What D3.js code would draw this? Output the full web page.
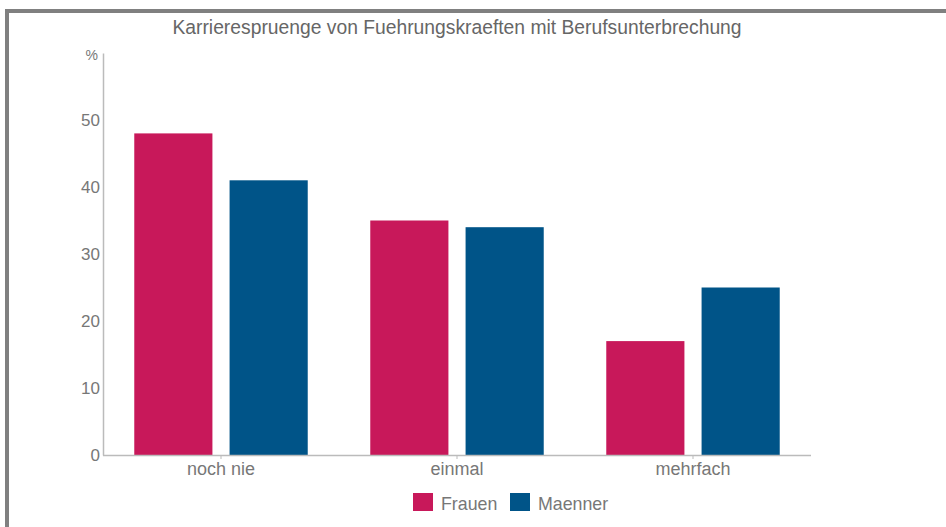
<!DOCTYPE html>
<html><head><meta charset="utf-8">
<script src="https://cdn.jsdelivr.net/npm/d3@7"></script>
<style>html,body{margin:0;padding:0;background:#fff;}svg{display:block;font-family:"Liberation Sans",Arial,sans-serif;}</style>
</head><body>
<script>
(function(){
const categories = ["noch nie", "einmal", "mehrfach"];
const seriesNames = ["Frauen", "Maenner"];
const frauen = [48, 35, 17];
const maenner = [41, 34, 25];
const yTicks = [0, 10, 20, 30, 40, 50];
const colors = ["#c8185a", "#005488"];
const title = "Karrierespruenge von Fuehrungskraeften mit Berufsunterbrechung";

const W = 946, H = 527;
const svg = d3.select("body").append("svg").attr("width", W).attr("height", H);

// frame
svg.append("path").attr("d", `M7,${H} V11 H${W}`).attr("fill","none").attr("stroke","#808080").attr("stroke-width",4);

const mLeft = 103, mRight = 811, mTop = 53, mBottom = 455;
const x0 = d3.scaleBand().domain(categories).range([mLeft, mRight]).paddingInner(0.265).paddingOuter(0.1325);
const x1 = d3.scaleBand().domain(seriesNames).range([0, x0.bandwidth()]).paddingInner(0.18);
const y = d3.scaleLinear().domain([0, 60]).range([mBottom, mTop]);

const data = categories.map((c, i) => ({cat: c, vals: [frauen[i], maenner[i]]}));

const g = svg.append("g");
g.selectAll("g.grp").data(data).join("g").attr("class","grp")
  .attr("transform", d => `translate(${x0(d.cat)},0)`)
  .selectAll("rect").data(d => d.vals.map((v, j) => ({s: seriesNames[j], v, j})))
  .join("rect")
  .attr("x", d => x1(d.s)).attr("width", x1.bandwidth())
  .attr("y", d => y(d.v)).attr("height", d => y(0) - y(d.v))
  .attr("fill", d => colors[d.j]);

// y axis
const yAx = svg.append("g").attr("transform", `translate(${mLeft},0)`)
  .call(d3.axisLeft(y).tickValues(yTicks).tickSize(0).tickPadding(3));
yAx.select(".domain").attr("stroke","#bbb").attr("stroke-width",1.5);
yAx.selectAll("text").attr("fill","#777").style("font-size","17px").style("font-family","Liberation Sans, Arial, sans-serif");
svg.append("text").attr("x", mLeft - 5).attr("y", mTop + 7).attr("text-anchor","end")
  .attr("fill","#777").style("font-size","14px").text("%");

// x axis
const xAx = svg.append("g").attr("transform", `translate(0,${mBottom})`)
  .call(d3.axisBottom(x0).tickSize(4).tickPadding(3).tickSizeOuter(0));
xAx.select(".domain").attr("stroke","#bbb").attr("stroke-width",1.5).attr("d", `M${mLeft},0.5H${mRight}`);
xAx.selectAll(".tick line").attr("stroke","#bbb");
xAx.selectAll("text").attr("fill","#777").style("font-size","18px").style("font-family","Liberation Sans, Arial, sans-serif");

// title
svg.append("text").attr("x", 457).attr("y", 34).attr("text-anchor","middle")
  .attr("fill","#666").style("font-size","19.3px").text(title);

// legend
const legX = [413, 510];
const leg = svg.append("g").selectAll("g").data(seriesNames).join("g")
  .attr("transform", (d, i) => `translate(${legX[i]},493)`);
leg.append("rect").attr("width",20).attr("height",18).attr("fill",(d,i)=>colors[i]);
leg.append("text").attr("x",28).attr("y",17).attr("fill","#777").style("font-size","17.8px").text(d => d);
})();
</script>
</body></html>
